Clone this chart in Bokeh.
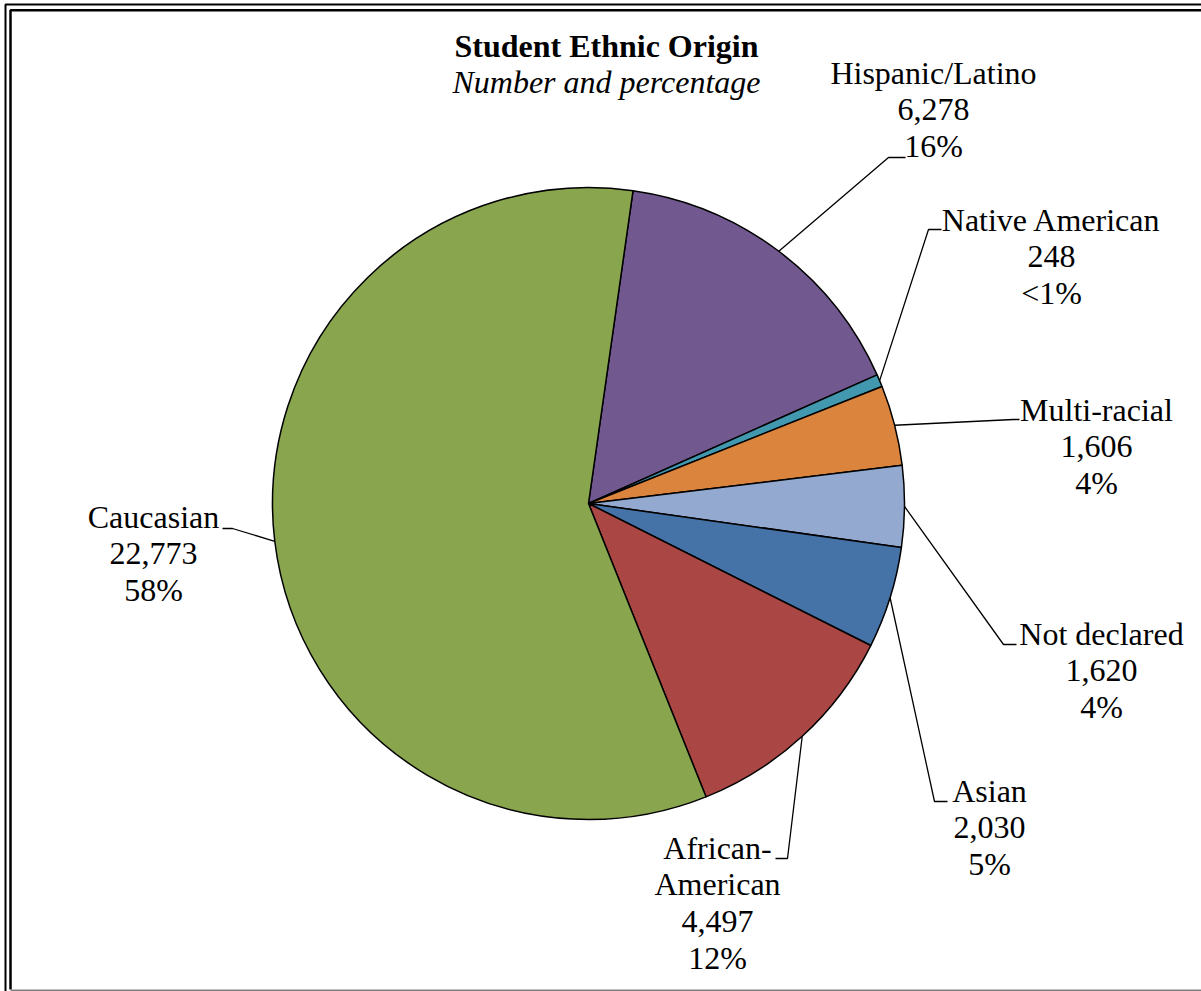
import math
from bokeh.plotting import figure
from bokeh.models import ColumnDataSource, Range1d
from bokeh.embed import file_html
from bokeh.resources import INLINE
from bokeh.core.properties import value

# ---------------- data ----------------
categories = ["Hispanic/Latino", "Native American", "Multi-racial", "Not declared",
              "Asian", "African-American", "Caucasian"]
label_names = [["Hispanic/Latino"], ["Native American"], ["Multi-racial"], ["Not declared"],
               ["Asian"], ["African-", "American"], ["Caucasian"]]
counts = [6278, 248, 1606, 1620, 2030, 4497, 22773]
colors = ["#71588F", "#4198AF", "#DB843D", "#93A9CF", "#4572A7", "#AA4643", "#89A54E"]

title_text = "Student Ethnic Origin"
subtitle_text = "Number and percentage"

# ---------------- layout (screen pixels) ----------------
W, H = 1201, 991
def sy(v):
    return H - v

cx, cy, r = 588, sy(503), 316
first_slice_deg = 8.1          # clockwise from 12 o'clock
line_gap = 36.8
FONT = "Liberation Serif"
FS = "32px"
TEXT_SHIFT = 11                # renderer baseline correction (px, upwards)

label_x = [933, 1051, 1096, 1101, 989, 717, 153]
label_first_baseline = [83, 230, 420, 644, 801, 858, 527]
leader_elbow = [(888, 157), (928, 229), (1013, 419), (1003, 644), (934, 801), (787, 858), (232, 528)]
leader_end = [(905, 157), (941, 229), (1019, 419), (1016, 644), (947, 801), (775, 858), (222, 528)]

# ---------------- figure ----------------
p = figure(width=W, height=H, x_range=Range1d(0, W), y_range=Range1d(0, H),
           output_backend="svg", toolbar_location=None, min_border=0,
           x_axis_location=None, y_axis_location=None)
p.grid.visible = False
p.outline_line_color = None
p.background_fill_color = "white"
p.border_fill_color = "white"

# ---------------- pie ----------------
total = float(sum(counts))
starts, ends, mids = [], [], []
cum = 0.0
for c in counts:
    a0 = math.pi / 2 - math.radians(first_slice_deg) - cum / total * 2 * math.pi
    cum += c
    a1 = math.pi / 2 - math.radians(first_slice_deg) - cum / total * 2 * math.pi
    starts.append(a0)
    ends.append(a1)
    mids.append((a0 + a1) / 2)

src = ColumnDataSource(dict(x=[cx] * len(counts), y=[cy] * len(counts),
                            start=starts, end=ends, color=colors, cat=categories))
p.wedge(x="x", y="y", radius=r, start_angle="start", end_angle="end",
        direction="clock", fill_color="color", line_color="black", line_width=1.5,
        source=src)

# ---------------- leader lines ----------------
xs, ys = [], []
for i, m in enumerate(mids):
    px = cx + r * math.cos(m)
    py = cy + r * math.sin(m)
    ex, ey = leader_elbow[i]
    fx, fy = leader_end[i]
    xs.append([px, ex, fx])
    ys.append([py, sy(ey), sy(fy)])
p.multi_line(xs=xs, ys=ys, line_color="black", line_width=1.3)

# ---------------- labels ----------------
def pct_text(c):
    pc = c / total * 100
    if pc < 1:
        return "<1%"
    return f"{round(pc):d}%"

tx, ty, tt = [], [], []
for i, c in enumerate(counts):
    lines = label_names[i] + [f"{c:,}", pct_text(c)]
    for j, ln in enumerate(lines):
        tx.append(label_x[i])
        ty.append(sy(label_first_baseline[i] + j * line_gap - TEXT_SHIFT))
        tt.append(ln)
p.text(x=tx, y=ty, text=tt, text_align="center", text_baseline="alphabetic",
       text_font=value(FONT), text_font_size=FS, text_color="black")

# ---------------- title ----------------
p.text(x=[606], y=[sy(56 - TEXT_SHIFT)], text=[title_text], text_align="center",
       text_baseline="alphabetic", text_font=value(FONT), text_font_size=FS,
       text_font_style="bold", text_color="black")
p.text(x=[606], y=[sy(92 - TEXT_SHIFT)], text=[subtitle_text], text_align="center",
       text_baseline="alphabetic", text_font=value(FONT), text_font_size=FS,
       text_font_style="italic", text_color="black")

# ---------------- frame ----------------
p.line(x=[5, 5, W], y=[0, sy(4), sy(4)], line_color="black", line_width=2)
p.line(x=[10, 10, W], y=[sy(989), sy(9.7), sy(9.7)], line_color="black", line_width=2.5)
p.line(x=[10, W], y=[sy(990), sy(990)], line_color="#808080", line_width=2)

open("out.html", "w").write(file_html(p, INLINE))
